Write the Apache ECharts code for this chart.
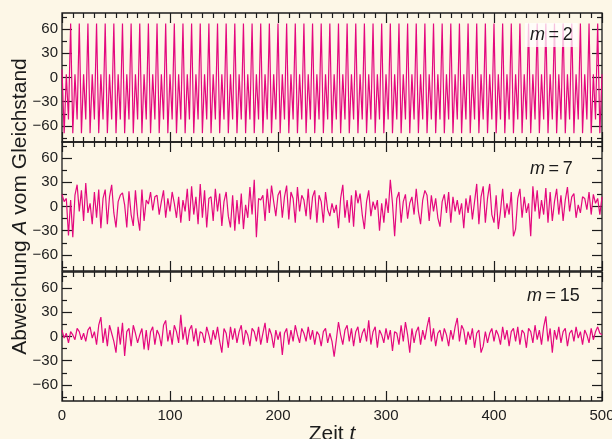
<!DOCTYPE html>
<html>
<head>
<meta charset="utf-8">
<script src="https://cdn.jsdelivr.net/npm/echarts@6/dist/echarts.min.js"></script>
<style>
  html, body { margin: 0; padding: 0; background: #fdf7e7; }
  #chart { width: 612px; height: 439px; }
</style>
</head>
<body>
<div id="chart"></div>
<script>
// deviation A at every time step, m = 2 (regular 8-step cycle)
var m2Vals = [
  10, -30, -69, -33, 4, -24, -52, 8,
  67, -2, -69, -33, 4, -24, -52, 8,
  67, -2, -69, -33, 4, -24, -52, 8,
  67, -2, -69, -33, 4, -24, -52, 8,
  67, -2, -69, -33, 4, -24, -52, 8,
  67, -2, -69, -33, 4, -24, -52, 8,
  67, -2, -69, -33, 4, -24, -52, 8,
  67, -2, -69, -33, 4, -24, -52, 8,
  67, -2, -69, -33, 4, -24, -52, 8,
  67, -2, -69, -33, 4, -24, -52, 8,
  67, -2, -69, -33, 4, -24, -52, 8,
  67, -2, -69, -33, 4, -24, -52, 8,
  67, -2, -69, -33, 4, -24, -52, 8,
  67, -2, -69, -33, 4, -24, -52, 8,
  67, -2, -69, -33, 4, -24, -52, 8,
  67, -2, -69, -33, 4, -24, -52, 8,
  67, -2, -69, -33, 4, -24, -52, 8,
  67, -2, -69, -33, 4, -24, -52, 8,
  67, -2, -69, -33, 4, -24, -52, 8,
  67, -2, -69, -33, 4, -24, -52, 8,
  67, -2, -69, -33, 4, -24, -52, 8,
  67, -2, -69, -33, 4, -24, -52, 8,
  67, -2, -69, -33, 4, -24, -52, 8,
  67, -2, -69, -33, 4, -24, -52, 8,
  67, -2, -69, -33, 4, -24, -52, 8,
  67, -2, -69, -33, 4, -24, -52, 8,
  67, -2, -69, -33, 4, -24, -52, 8,
  67, -2, -69, -33, 4, -24, -52, 8,
  67, -2, -69, -33, 4, -24, -52, 8,
  67, -2, -69, -33, 4, -24, -52, 8,
  67, -2, -69, -33, 4, -24, -52, 8,
  67, -2, -69, -33, 4, -24, -52, 8,
  67, -2, -69, -33, 4, -24, -52, 8,
  67, -2, -69, -33, 4, -24, -52, 8,
  67, -2, -69, -33, 4, -24, -52, 8,
  67, -2, -69, -33, 4, -24, -52, 8,
  67, -2, -69, -33, 4, -24, -52, 8,
  67, -2, -69, -33, 4, -24, -52, 8,
  67, -2, -69, -33, 4, -24, -52, 8,
  67, -2, -69, -33, 4, -24, -52, 8,
  67, -2, -69, -33, 4, -24, -52, 8,
  67, -2, -69, -33, 4, -24, -52, 8,
  67, -2, -69, -33, 4, -24, -52, 8,
  67, -2, -69, -33, 4, -24, -52, 8,
  67, -2, -69, -33, 4, -24, -52, 8,
  67, -2, -69, -33, 4, -24, -52, 8,
  67, -2, -69, -33, 4, -24, -52, 8,
  67, -2, -69, -33, 4, -24, -52, 8,
  67, -2, -69, -33, 4, -24, -52, 8,
  67, -2, -69, -33, 4, -24, -52, 8,
  67, -2, -69, -33, 4, -24, -52, 8,
  67, -2, -69, -33, 4, -24, -52, 8,
  67, -2, -69, -33, 4, -24, -52, 8,
  67, -2, -69, -33, 4, -24, -52, 8,
  67, -2, -69, -33, 4, -24, -52, 8,
  67, -2, -69, -33, 4, -24, -52, 8,
  67, -2, -69, -33, 4, -24, -52, 8,
  67, -2, -69, -33, 4, -24, -52, 8,
  67, -2, -69, -33, 4, -24, -52, 8,
  67, -2, -69, -33, 4, -24, -52, 8,
  67, -2, -69, -33, 4, -24, -52, 8,
  67, -2, -69, -33, 4, -24, -52, 8,
  67, -2, -69, -33, 4
];

// m = 7, read every 2 time steps (t = 0, 2, ... 500)
var m7Vals = [
  15, 6, 10, -36, 8, -38, 14, 27, -6, 20,
  -18, 29, -8, 4, -22, 18, -14, 21, -27, 10,
  21, -22, 12, 27, -8, -26, 6, 14, 17, 2,
  -26, 19, -10, -24, 20, -12, -30, 21, -18, 8,
  3, 18, -5, 12, 14, -10, 6, 20, -14, 10,
  -6, 18, 4, -14, 12, -20, 8, -6, 22, -18,
  25, -10, 12, -22, 28, -14, 20, -26, 10, 12,
  -18, 22, -6, 16, -24, 6, 18, -12, -26, 14,
  -30, 8, -22, 16, -28, 2, -14, 24, -10, 33,
  -38, 10, 8, 14, -18, 22, -8, 26, 6, -12,
  14, 20, -14, 12, 26, -16, 18, 10, -20, 24,
  -6, 14, 8, -12, 22, -16, 12, 20, -20, 14,
  6, -20, 18, -4, -12, 4, -8, 2, -27, 10,
  27, -14, 8, -20, 14, -25, 20, 4, 16, -10,
  -28, 6, 20, -12, 6, -4, 8, -30, 4, -20,
  10, -8, 33, 4, -37, 10, 18, -20, 6, 15,
  -15, 4, 12, -10, 22, -6, -22, 8, 20, 14,
  -18, 14, -6, 10, -14, -25, 6, 15, -8, 18,
  -20, 12, -6, 8, -10, 4, -27, 10, -8, 14,
  -16, 6, 28, -22, 12, 25, -20, 10, 28, -10,
  -20, 14, -28, -6, 22, -14, 4, -10, 18, -37,
  -28, 10, 22, -14, 12, -8, 4, -37, 25, -6,
  20, -15, 8, -10, 23, -20, 18, -18, 6, 22,
  -10, 14, -18, 8, 24, -6, 12, 16, -14, 2,
  -8, 12, 10, -4, 18, -10, 15, 4, 10, -10,
  12
];

// m = 15, read every 2 time steps
var m15Vals = [
  8, -2, 4, -8, 6, 2, -4, 10, 6, -4,
  4, -6, 8, 12, -2, 6, -10, 14, 24, -8,
  10, -12, 14, 4, -6, -20, 12, -10, 17, -24,
  6, 10, -12, 14, 4, -8, 2, 10, -16, 8,
  -17, 6, 12, -10, 8, 2, -12, 14, 20, -6,
  8, -10, 14, 6, -8, 27, -4, 12, -10, 8,
  14, -6, 10, -12, 6, 4, -8, 12, 2, -10,
  8, -4, 12, -6, -20, 10, 4, -14, 12, -4,
  10, -8, 6, 14, -10, 8, 2, -12, 10, 6,
  -6, 12, -10, 4, 17, -8, 10, 2, -14, 8,
  -4, 6, -23, 4, 10, -10, 8, -6, 14, 2,
  -8, 10, 4, -6, 12, -4, 8, -10, 6, 2,
  -12, 6, 10, -8, 4, -6, -25, -4, 18, 2,
  -10, 8, 14, -6, 10, -12, 6, 12, -8, 4,
  10, -6, 20, -10, 6, 12, -14, 8, 2, -8,
  10, -4, 8, -18, 6, 4, -10, 14, -6, 18,
  2, -20, 10, -8, 6, 12, -10, 8, -4, 12,
  24, -6, 10, -12, 4, 8, -6, 10, 2, -12,
  8, -4, 12, 23, -6, 14, 8, -10, 6, -4,
  10, -14, 4, 8, -20, -12, 6, -8, 4, 10,
  -6, 8, 2, -10, 12, -4, 8, -12, 6, 10,
  -6, 12, -10, 8, 4, -14, 10, 6, -8, 14,
  -4, 8, -10, 12, 25, -6, 10, -20, 8, -4,
  12, -8, 6, 10, -12, 4, 8, -6, 12, -2,
  6, -10, 8, 2, -8, 10, -4, 6, 12, 4,
  2
];

var panelLabels = ['2', '7', '15'];
var xTicks = [0, 100, 200, 300, 400, 500];
var yMajor = [-60, -30, 0, 30, 60];
var yMinor = [-75, -45, -15, 15, 45, 75];

var ink = '#1c1c1c';
var lineColor = '#e4087e';
var font = 'Liberation Sans';

var chart = echarts.init(document.getElementById('chart'));

var grids = [], xAxes = [], yAxes = [], series = [], titles = [];
var tops = [13, 142, 272];
var labelTops = [23, 157, 284];
var panelData = [
  m2Vals.map(function (v, i) { return [i, v]; }),
  m7Vals.map(function (v, i) { return [i * 2, v]; }),
  m15Vals.map(function (v, i) { return [i * 2, v]; })
];

tops.forEach(function (top, g) {
  grids.push({
    left: 62, right: 10, top: top, height: 129,
    outerBoundsMode: 'none', containLabel: false,
    show: true, borderColor: ink, borderWidth: 1.3, backgroundColor: 'transparent'
  });

  ['bottom', 'top'].forEach(function (pos) {
    var isLabelled = (g === 2 && pos === 'bottom');
    xAxes.push({
      gridIndex: g, type: 'value', position: pos,
      min: 0, max: 500, interval: 100,
      axisLine: { show: false, onZero: false },
      axisTick: { inside: true, length: 10, lineStyle: { color: ink, width: 1.2 } },
      minorTick: { show: true, splitNumber: 10, length: 5, lineStyle: { color: ink, width: 1.2 } },
      splitLine: { show: false },
      axisLabel: {
        show: isLabelled, margin: 7, color: ink, fontFamily: font, fontSize: 15,
        customValues: xTicks
      },
      name: isLabelled ? '{n|Zeit }{i|t}' : '',
      nameLocation: 'middle', nameGap: 23,
      nameTextStyle: {
        rich: {
          n: { fontFamily: font, fontSize: 21, color: ink },
          i: { fontFamily: font, fontSize: 21, fontStyle: 'italic', color: ink }
        }
      }
    });
  });

  ['left', 'right'].forEach(function (pos) {
    var labelled = pos === 'left';
    yAxes.push({
      gridIndex: g, type: 'value', position: pos, min: -80, max: 80,
      axisLine: { show: false, onZero: false },
      splitLine: { show: false },
      axisTick: { inside: true, length: 10, customValues: yMajor, lineStyle: { color: ink, width: 1.2 } },
      axisLabel: {
        show: labelled, customValues: yMajor, margin: 4, color: ink, fontFamily: font, fontSize: 15,
        formatter: function (v) { return String(v).replace('-', '\u2212'); }
      },
      name: (labelled && g === 1) ? '{n|Abweichung }{i|A}{n| vom Gleichstand}' : '',
      nameLocation: 'middle', nameRotate: 90, nameGap: 31, nameMoveOverlap: false,
      nameTextStyle: {
        rich: {
          n: { fontFamily: font, fontSize: 21, color: ink },
          i: { fontFamily: font, fontSize: 21, fontStyle: 'italic', color: ink }
        }
      }
    });
    yAxes.push({
      gridIndex: g, type: 'value', position: pos, min: -80, max: 80,
      axisLine: { show: false, onZero: false },
      splitLine: { show: false },
      axisTick: { inside: true, length: 5, customValues: yMinor, lineStyle: { color: ink, width: 1.2 } },
      axisLabel: { show: false }
    });
  });

  series.push({
    type: 'line',
    xAxisIndex: g * 2,
    yAxisIndex: g * 4,
    data: panelData[g],
    showSymbol: false,
    lineStyle: { color: lineColor, width: 1.2 },
    itemStyle: { color: lineColor },
    animation: false
  });

  titles.push({
    text: '{i|m}{n|\u2009=\u2009' + panelLabels[g] + '}',
    left: g === 2 ? 522 : 525, top: labelTops[g],
    padding: [3, 5],
    backgroundColor: g === 0 ? 'rgba(255,255,255,0.75)' : 'transparent',
    textStyle: {
      fontWeight: 'normal',
      rich: {
        i: { fontFamily: font, fontSize: 18, fontStyle: 'italic', fontWeight: 'normal', color: ink },
        n: { fontFamily: font, fontSize: 18, fontWeight: 'normal', color: ink }
      }
    }
  });
});

var option = {
  backgroundColor: '#fdf7e7',
  animation: false,
  title: titles,
  grid: grids,
  xAxis: xAxes,
  yAxis: yAxes,
  series: series
};

chart.setOption(option);
</script>
</body>
</html>
